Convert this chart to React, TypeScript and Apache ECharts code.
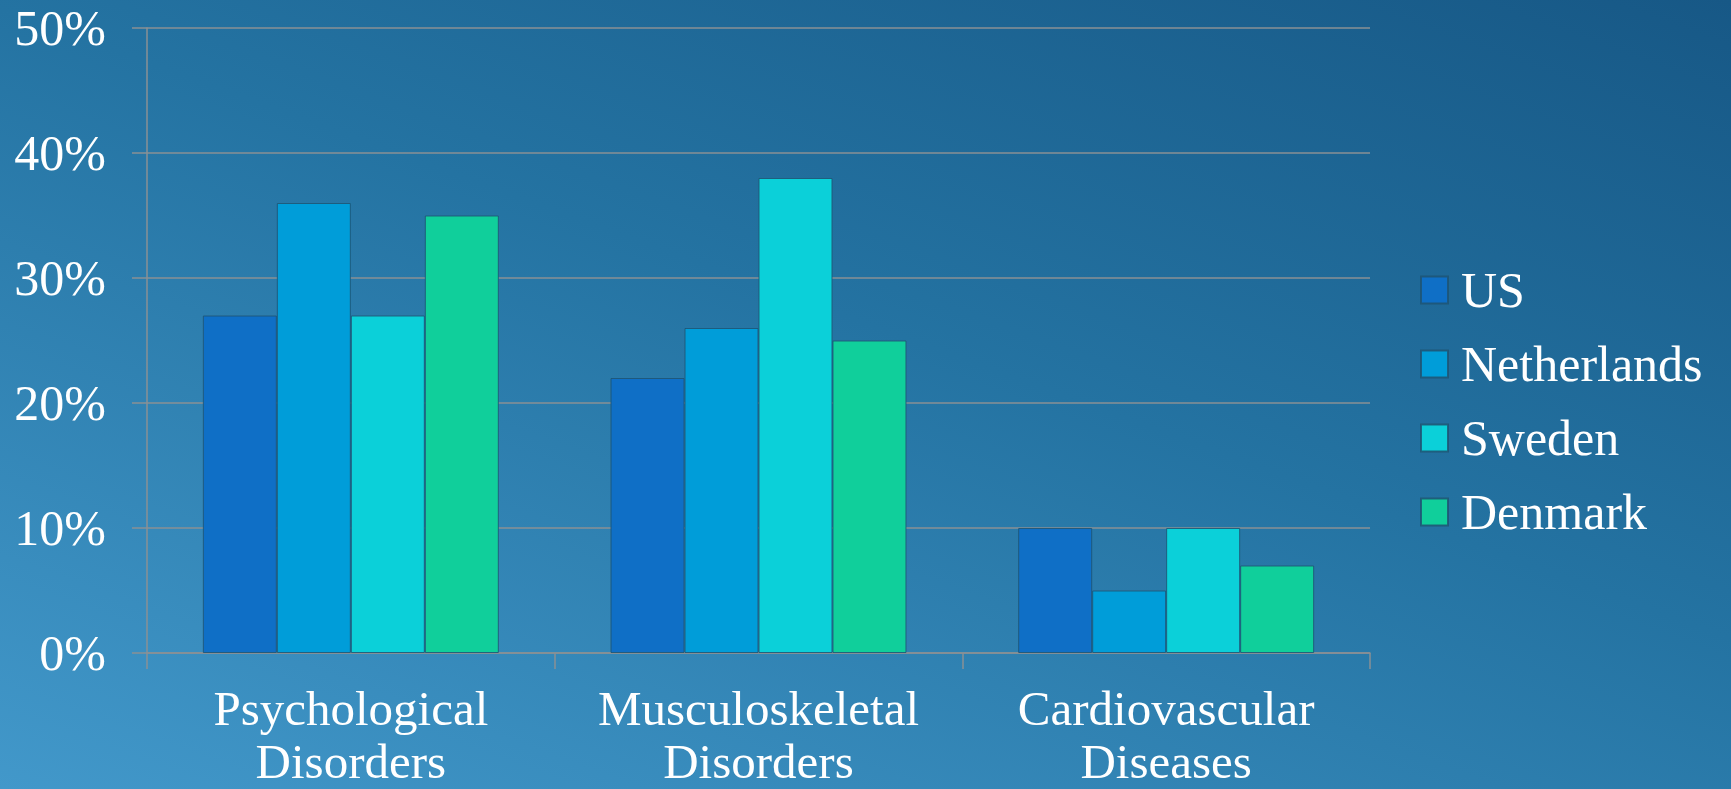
import React, { useEffect, useRef } from "react";
import * as echarts from "echarts";

const categories = ["Psychological\nDisorders", "Musculoskeletal\nDisorders", "Cardiovascular\nDiseases"];
const seriesNames = ["US", "Netherlands", "Sweden", "Denmark"];
const usValues = [0.27, 0.22, 0.10];
const netherlandsValues = [0.36, 0.26, 0.05];
const swedenValues = [0.27, 0.38, 0.10];
const denmarkValues = [0.35, 0.25, 0.07];
const seriesValues = [usValues, netherlandsValues, swedenValues, denmarkValues];
const colors = ["#0F6FC6", "#009DD9", "#0BD0D9", "#10CF9B"];

const FONT = "'Liberation Serif', 'DejaVu Serif', serif";
const GRID_COLOR = "#8a9095";

export default function App() {
  const ref = useRef<HTMLDivElement>(null);
  useEffect(() => {
    if (!ref.current) return;
    const chart = echarts.init(ref.current, null, { renderer: "svg" });
    chart.setOption({
      animation: false,
      backgroundColor: "transparent",
      grid: { left: 147, right: 361, top: 28, bottom: 136, outerBoundsMode: "none", containLabel: false },
      legend: {
        orient: "vertical",
        left: 1415,
        top: 260,
        itemWidth: 27,
        itemHeight: 27,
        itemGap: 24,
        icon: "rect",
        data: seriesNames,
        textStyle: {
          color: "#ffffff",
          fontFamily: FONT,
          fontSize: 50,
          lineHeight: 50,
          padding: [0, 0, 0, 8],
        },
      },
      xAxis: {
        type: "category",
        data: categories,
        axisLine: { show: true, lineStyle: { color: GRID_COLOR, width: 1.5 } },
        axisTick: { show: true, length: 16, lineStyle: { color: GRID_COLOR, width: 1.5 } },
        axisLabel: {
          interval: 0,
          color: "#ffffff",
          fontFamily: FONT,
          fontSize: 49,
          lineHeight: 53,
          margin: 29,
        },
      },
      yAxis: {
        type: "value",
        min: 0,
        max: 0.5,
        interval: 0.1,
        axisLine: { show: true, lineStyle: { color: GRID_COLOR, width: 1.5 } },
        axisTick: { show: true, length: 15, lineStyle: { color: GRID_COLOR, width: 1.5 } },
        splitLine: { show: true, lineStyle: { color: GRID_COLOR, width: 1.5 } },
        axisLabel: {
          color: "#ffffff",
          fontFamily: FONT,
          fontSize: 50,
          margin: 41,
          formatter: (v: number) => Math.round(v * 100) + "%",
        },
      },
      series: seriesNames.map((name, i) => ({
        name,
        type: "bar",
        data: seriesValues[i],
        barGap: "0%",
        barCategoryGap: "27.4%",
        itemStyle: {
          color: colors[i],
          borderColor: "rgba(30,85,115,0.85)",
          borderWidth: 1,
        },
      })),
    });
    return () => chart.dispose();
  }, []);
  return (
    <div
      style={{
        position: "fixed",
        left: 0,
        top: 0,
        width: 1731,
        height: 789,
        background: "linear-gradient(200deg, #175886 0%, #2473a2 45%, #4298ca 100%)",
      }}
    >
      <div ref={ref} style={{ width: 1731, height: 789 }} />
    </div>
  );
}
